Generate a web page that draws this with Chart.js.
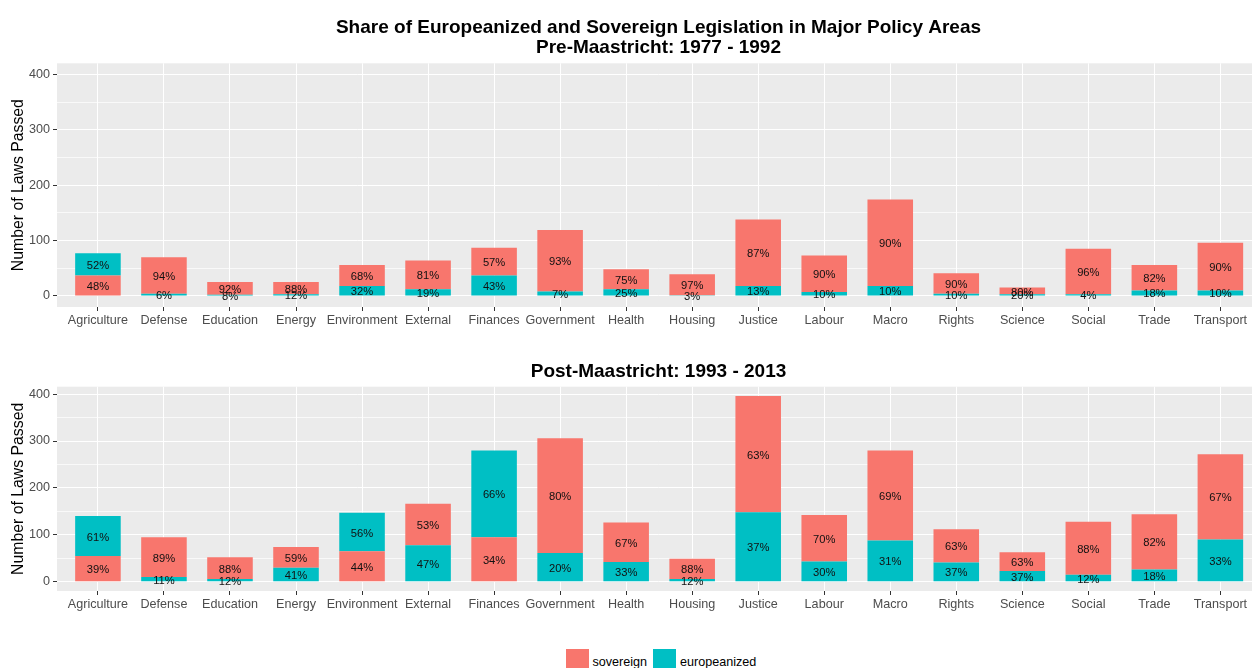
<!DOCTYPE html>
<html>
<head>
<meta charset="utf-8">
<script src="https://cdn.jsdelivr.net/npm/chart.js@4.4.1/dist/chart.umd.min.js"></script>
<style>
  html, body { margin: 0; padding: 0; background: #fff; width: 1252px; height: 668px; overflow: hidden; position: relative; }
  canvas { position: absolute; left: 0; }
  #c1 { top: 0; }
  #c2 { top: 340px; }
  .lg-box { position: absolute; top: 649px; width: 23px; height: 23px; }
  .lg-text { position: absolute; top: 655px; font: 12.6px/15px "Liberation Sans", Arial, sans-serif; color: #000; white-space: nowrap; }
</style>
</head>
<body>
<canvas id="c1" width="1262" height="335"></canvas>
<canvas id="c2" width="1262" height="279"></canvas>
<div id="legend"></div>
<script>
// ---------------- data ----------------
const categories = ['Agriculture', 'Defense', 'Education', 'Energy', 'Environment', 'External',
  'Finances', 'Government', 'Health', 'Housing', 'Justice', 'Labour', 'Macro', 'Rights',
  'Science', 'Social', 'Trade', 'Transport'];

const seriesNames = ['sovereign', 'europeanized'];

// Pre-Maastricht: 1977 - 1992 (number of laws)
const preSovereign    = [37, 66, 23, 22, 38, 52, 50, 111, 36, 38, 120, 66, 156, 37, 12, 82, 46, 86];
const preEuropeanized = [40,  4,  2,  3, 18, 12, 37,   8, 12,  1,  18,  7,  18,  4,  3,  3, 10, 10];

// Post-Maastricht: 1993 - 2013 (number of laws)
const postSovereign    = [55, 85, 46, 44, 65, 88,  95, 245, 84, 43, 248, 99, 192, 71, 40, 113, 118, 182];
const postEuropeanized = [85, 10,  6, 30, 82, 78, 185,  61, 42,  6, 148, 43,  88, 41, 23,  15,  26,  90];

const yTickValues = [0, 50, 100, 150, 200, 250, 300, 350, 400];
const yLabelEvery = 100;

const mainTitle = 'Share of Europeanized and Sovereign Legislation in Major Policy Areas';
const preTitle = 'Pre-Maastricht: 1977 - 1992';
const postTitle = 'Post-Maastricht: 1993 - 2013';
const yAxisTitle = 'Number of Laws Passed';

// ---------------- styling ----------------
const COLORS = ['#F8766D', '#00BFC4'];
const FONT = '"Liberation Sans", Arial, sans-serif';

// The original stacks the larger share on top of the smaller one.
function buildDatasets(sov, eur) {
  const lower = { data: [], backgroundColor: [], pcts: [] };
  const upper = { data: [], backgroundColor: [], pcts: [] };
  sov.forEach((s, i) => {
    const e = eur[i];
    const total = s + e;
    const vals = [s, e];
    const pcts = [Math.round(100 * s / total), Math.round(100 * e / total)];
    const lo = s <= e ? 0 : 1;
    const hi = 1 - lo;
    lower.data.push({ x: i, y: vals[lo] });
    lower.backgroundColor.push(COLORS[lo]);
    lower.pcts.push(pcts[lo]);
    upper.data.push({ x: i, y: vals[hi] });
    upper.backgroundColor.push(COLORS[hi]);
    upper.pcts.push(pcts[hi]);
  });
  return [lower, upper].map(d => Object.assign(d, {
    borderWidth: 0,
    categoryPercentage: 1,
    barPercentage: 0.69
  }));
}

const panelBg = {
  id: 'panelBg',
  beforeDraw(chart) {
    const { ctx, chartArea: a } = chart;
    ctx.save();
    ctx.fillStyle = '#EBEBEB';
    ctx.fillRect(a.left, a.top, a.right - a.left, a.bottom - a.top);
    ctx.restore();
  }
};

const pctLabels = {
  id: 'pctLabels',
  afterDatasetsDraw(chart) {
    const ctx = chart.ctx;
    ctx.save();
    ctx.font = '11.2px ' + FONT;
    ctx.fillStyle = '#111';
    ctx.textAlign = 'center';
    ctx.textBaseline = 'middle';
    chart.data.datasets.forEach((ds, di) => {
      chart.getDatasetMeta(di).data.forEach((el, i) => {
        const p = el.getProps(['x', 'y', 'base'], true);
        ctx.fillText(ds.pcts[i] + '%', p.x, (p.y + p.base) / 2 + 1.5);
      });
    });
    ctx.restore();
  }
};

function makeChart(id, sov, eur, titleText, titlePad, yMin, yMax) {
  return new Chart(document.getElementById(id), {
    type: 'bar',
    data: { datasets: buildDatasets(sov, eur) },
    plugins: [panelBg, pctLabels],
    options: {
      responsive: false,
      animation: false,
      devicePixelRatio: 1,
      events: [],
      layout: { padding: { left: 0, right: 2, top: 0, bottom: 0 } },
      plugins: {
        legend: { display: false },
        tooltip: { enabled: false },
        title: {
          display: true,
          text: titleText,
          fullSize: false,
          color: '#000',
          font: { family: FONT, size: 19, weight: 'bold', lineHeight: 20 / 19 },
          padding: titlePad
        }
      },
      scales: {
        x: {
          type: 'linear',
          stacked: true,
          offset: false,
          min: -0.62,
          max: categories.length - 1 + 0.6,
          afterBuildTicks: s => { s.ticks = categories.map((c, i) => ({ value: i })); },
          afterFit: s => { s.height = 28; },
          border: { display: false },
          grid: { offset: false, color: '#FFFFFF', lineWidth: 1, drawTicks: true, tickLength: 4, tickColor: '#333333', tickWidth: 1 },
          ticks: {
            autoSkip: false, maxRotation: 0, minRotation: 0, padding: 2,
            color: '#4D4D4D', font: { family: FONT, size: 12.6 },
            callback: v => categories[v]
          }
        },
        y: {
          stacked: true,
          min: yMin,
          max: yMax,
          afterBuildTicks: s => { s.ticks = yTickValues.map(v => ({ value: v })); },
          afterFit: s => { s.width = 57; },
          border: { display: false },
          grid: {
            color: c => (c.tick && c.tick.value % yLabelEvery === 0) ? '#FFFFFF' : 'rgba(255,255,255,0.7)',
            lineWidth: 1,
            drawTicks: true,
            tickLength: 4,
            tickWidth: 1,
            tickColor: c => (c.tick && c.tick.value % yLabelEvery === 0) ? '#333333' : 'rgba(0,0,0,0)'
          },
          ticks: {
            padding: 3,
            color: '#4D4D4D', font: { family: FONT, size: 12.6 },
            callback: v => (v % yLabelEvery === 0 ? String(v) : '')
          },
          title: {
            display: true,
            text: yAxisTitle,
            color: '#000',
            font: { family: FONT, size: 15.8 },
            padding: { top: 8.8, bottom: 0 }
          }
        }
      }
    }
  });
}

makeChart('c1', preSovereign, preEuropeanized, [mainTitle, preTitle], { top: 17.5, bottom: 5.8 }, -20, 420);
makeChart('c2', postSovereign, postEuropeanized, postTitle, { top: 21.7, bottom: 5 }, -19.8, 415.8);

// legend (HTML, built from the series names/colours)
const lg = document.getElementById('legend');
const lgPos = [{ box: 566, text: 592.5 }, { box: 653, text: 680 }];
seriesNames.forEach((name, i) => {
  const b = document.createElement('div');
  b.className = 'lg-box';
  b.style.left = lgPos[i].box + 'px';
  b.style.background = COLORS[i];
  lg.appendChild(b);
  const t = document.createElement('div');
  t.className = 'lg-text';
  t.style.left = lgPos[i].text + 'px';
  t.textContent = name;
  lg.appendChild(t);
});
</script>
</body>
</html>
